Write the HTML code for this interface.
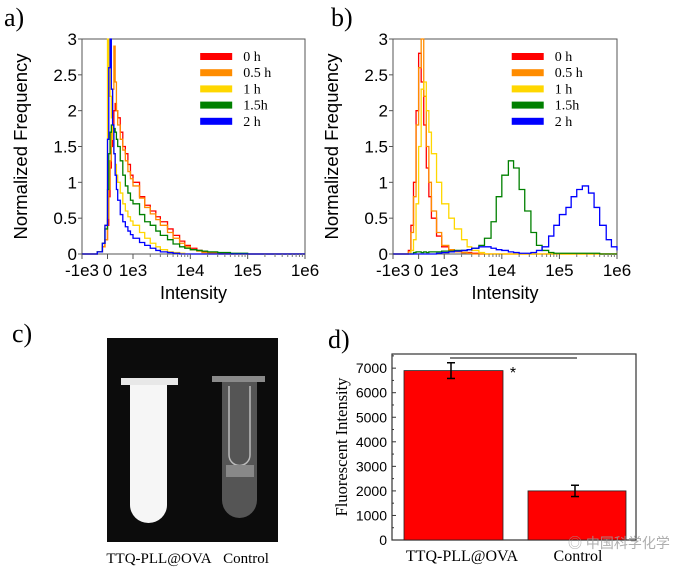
<!DOCTYPE html>
<html><head><meta charset="utf-8"><style>
html,body{margin:0;padding:0;background:#fff;width:693px;height:576px;overflow:hidden}
svg{display:block}
.ar{font-family:"Liberation Sans",Arial,sans-serif}
.sr{font-family:"Liberation Serif","Times New Roman",serif}
</style></head><body>
<svg id="fig" width="693" height="576" viewBox="0 0 693 576" xmlns="http://www.w3.org/2000/svg">
<text x="4" y="26" class="sr" font-size="26">a)</text>
<text x="331" y="26" class="sr" font-size="26">b)</text>
<text x="12" y="342" class="sr" font-size="26">c)</text>
<text x="328" y="348" class="sr" font-size="26">d)</text>
<g id="pa"></g>
<g id="pb"></g>
<g id="pc">
 <rect x="107" y="338" width="171" height="204" fill="#0c0c0c"/>
 <rect x="121" y="378" width="57" height="7" fill="#e8e8e8"/>
 <path d="M130 385 V505 A18.5 18 0 0 0 167 505 V385 Z" fill="#f6f6f6"/>
 <rect x="212" y="376" width="53" height="6" fill="#8a8a8a"/>
 <path d="M222 382 V500 A17.5 18 0 0 0 257 500 V382 Z" fill="#555"/>
 <path d="M229 386 V455 A10 10 0 0 0 250 455 V386" fill="none" stroke="#bbb" stroke-width="1.5"/>
 <rect x="226" y="465" width="28" height="12" fill="#888"/>
 <text x="159" y="563" text-anchor="middle" class="sr" font-size="15">TTQ-PLL@OVA</text>
 <text x="246" y="563" text-anchor="middle" class="sr" font-size="15">Control</text>
</g>
<g id="pd"></g>
<text x="568" y="548" class="ar" font-size="14" fill="#9a9a9a" opacity="0.8">◎ 中国科学化学</text>
</svg>
<script>
// ---- Panel a data ----
const binsA = [-600,-400,-200,-100,0,50,100,150,200,250,300,350,400,500,600,700,800,900,1000,1300,1600,2000,2500,3000,4000,5000,6500,8000,10000,13000,16000,20000,30000,50000,100000,1000000];
const a0h  = [0,0.03,0.1,0.2,0.4,0.8,1.2,1.5,1.8,2.0,2.1,2.0,1.9,1.7,1.5,1.4,1.25,1.1,1.0,0.8,0.68,0.6,0.52,0.45,0.35,0.26,0.18,0.12,0.08,0.05,0.03,0.02,0.01,0,0,0];
const a05h = [0,0.03,0.1,0.2,0.5,0.9,1.3,1.7,2.3,2.9,2.4,2.0,1.8,1.6,1.45,1.3,1.15,1.05,0.95,0.78,0.65,0.56,0.48,0.4,0.3,0.22,0.15,0.1,0.06,0.04,0.02,0.01,0,0,0,0];
const a1h  = [0,0.03,0.15,0.4,3.0,2.6,2.2,1.9,1.6,1.4,1.25,1.1,1.0,0.85,0.7,0.6,0.52,0.46,0.4,0.3,0.22,0.15,0.1,0.06,0.03,0.02,0.01,0,0,0,0,0,0,0,0,0];
const a15h = [0,0.03,0.15,0.35,0.9,1.4,1.7,1.8,1.8,1.75,1.7,1.6,1.5,1.3,1.1,0.95,0.85,0.75,0.7,0.55,0.45,0.4,0.32,0.26,0.2,0.14,0.1,0.08,0.06,0.05,0.04,0.03,0.02,0.01,0,0];
const a2h  = [0,0.03,0.15,0.4,1.6,2.6,3.0,2.3,1.8,1.4,1.1,0.9,0.75,0.55,0.45,0.38,0.32,0.27,0.22,0.16,0.12,0.08,0.05,0.03,0.02,0.01,0,0,0,0,0,0,0,0,0,0];
// ---- Panel b data ----
const binsB = [-600,-400,-300,-200,-100,0,100,200,300,400,500,700,900,1200,1500,2000,2500,3000,4000,5000,6500,8000,10000,13000,16000,20000,25000,32000,40000,50000,65000,80000,100000,130000,160000,200000,250000,320000,400000,500000,650000,800000,1000000];
const b0h  = [0,0.05,0.4,1.0,2.0,2.8,2.4,1.8,1.2,0.8,0.5,0.25,0.1,0.05,0.03,0.02,0.02,0.01,0,0,0,0,0,0,0,0,0,0,0,0,0,0,0,0,0,0,0,0,0,0,0,0,0];
const b05h = [0,0.03,0.3,0.8,1.8,2.6,3.0,2.2,1.5,1.0,0.6,0.3,0.12,0.06,0.03,0.02,0.01,0,0,0,0,0,0,0,0,0,0,0,0,0,0,0,0,0,0,0,0,0,0,0,0,0,0];
const b1h  = [0,0,0.05,0.2,0.7,1.5,2.3,2.4,2.0,1.7,1.4,1.0,0.7,0.5,0.35,0.2,0.1,0.05,0.02,0,0,0,0,0,0,0,0,0,0,0,0,0,0,0,0,0,0,0,0,0,0,0,0];
const b15h = [0,0,0,0.02,0.03,0.03,0.02,0.03,0.02,0.03,0.03,0.03,0.04,0.04,0.05,0.05,0.06,0.08,0.12,0.22,0.45,0.8,1.1,1.3,1.2,0.9,0.6,0.3,0.12,0.05,0.02,0.01,0.01,0.01,0.01,0.01,0.01,0.01,0.01,0,0,0,0];
const b2h  = [0,0,0,0,0,0,0,0,0,0,0,0.01,0.02,0.03,0.04,0.05,0.06,0.08,0.1,0.1,0.08,0.06,0.05,0.03,0.02,0.01,0.01,0.02,0.05,0.1,0.25,0.4,0.55,0.65,0.8,0.9,0.95,0.85,0.65,0.4,0.2,0.1,0.05];
// ---- Panel d data ----
const dCategories = ["TTQ-PLL@OVA","Control"];
const dValues = [6900, 2000];
const dErrors = [320, 230];
const dTicks = [0,1000,2000,3000,4000,5000,6000,7000];
const histTicks = [0,0.5,1,1.5,2,2.5,3];
const histTickLabels = ["0","0.5","1","1.5","2","2.5","3"];
const xTickVals = [-1000,0,1000,10000,100000,1000000];
const xTickLabels = ["-1e3","0","1e3","1e4","1e5","1e6"];
const legendLabels = ["0 h","0.5 h","1 h","1.5h","2 h"];
const colors = ["#ff0000","#ff8c00","#ffd700","#008000","#0000ff"];

const NS="http://www.w3.org/2000/svg";
function mk(tag, attrs, parent){const e=document.createElementNS(NS,tag);for(const k in attrs)e.setAttribute(k,attrs[k]);parent.appendChild(e);return e;}

function hist(g, L, R, T, B, bins, series){
  const W=R-L;
  const linW=W*51/223, dec=(W-linW)/3;
  const xS=v=> v<=1000 ? L + (v+1000)/2000*linW : L+linW+Math.log10(v/1000)*dec;
  const yS=v=> B-(v/3)*(B-T);
  const fr=mk('rect',{x:L,y:T,width:W,height:B-T,fill:'#fff',stroke:'#555','stroke-width':1},g);
  
  series.forEach((s,i)=>{
    let d='';
    for(let j=0;j<bins.length;j++){
      const x=xS(bins[j]), y=yS(Math.min(s[j],3));
      if(j===0) d+='M'+L+' '+B+' L'+x+' '+y; else d+=' H'+x+' V'+y;
    }
    d+=' H'+R;
    const p=mk('path',{d:d,fill:'none',stroke:colors[i],'stroke-width':1.3},g);
    
    
  });
  histTicks.forEach((t,i)=>{
    const y=yS(t);
    mk('line',{x1:L-4,x2:L,y1:y,y2:y,stroke:'#555'},g);
    const tx=mk('text',{x:L-5,y:y+6,'text-anchor':'end','font-size':17,class:'ar'},g);
    tx.textContent=histTickLabels[i];
    
  });
  xTickVals.forEach((v,i)=>{
    const x=xS(v);
    mk('line',{x1:x,x2:x,y1:B,y2:B+5,stroke:'#555'},g);
    const tx=mk('text',{x:x,y:B+22,'text-anchor':'middle','font-size':17,class:'ar'},g);
    tx.textContent=xTickLabels[i];
    
  });
  for(let dd=0;dd<3;dd++)for(let m=2;m<10;m++){const x=xS(1000*Math.pow(10,dd)*m);mk('line',{x1:x,x2:x,y1:B,y2:B+3,stroke:'#777'},g);}
  const xt=mk('text',{x:(L+R)/2,y:B+45,'text-anchor':'middle','font-size':18,class:'ar'},g);
  xt.textContent='Intensity';
  const yt=mk('text',{x:0,y:0,'text-anchor':'middle','font-size':18.5,class:'ar',transform:'translate('+(L-55)+','+((T+B)/2)+') rotate(-90)'},g);
  yt.textContent='Normalized Frequency';
  const lx=L+W*0.53;
  legendLabels.forEach((lab,i)=>{
    const y=56+i*16.2;
    const r=mk('rect',{x:lx,y:y-3,width:32,height:7,fill:colors[i]},g);
    
    const tx=mk('text',{x:lx+43,y:y+5,'font-size':14,class:'sr'},g);
    tx.textContent=lab;
  });
}
hist(document.getElementById('pa'),82,305,39,254,binsA,[a0h,a05h,a1h,a15h,a2h]);
hist(document.getElementById('pb'),393,617,39,254,binsB,[b0h,b05h,b1h,b15h,b2h]);

(function(){
  const g=document.getElementById('pd');
  const L=392,R=636,T=354,B=540;
  const yS=v=>B-v/1000*24.55;
  const fr=mk('rect',{x:L,y:T,width:R-L,height:B-T,fill:'#fff',stroke:'#333','stroke-width':1.2},g);
  
  const bx=[[404,503],[528,626]];
  dValues.forEach((v,i)=>{
    const b=mk('rect',{x:bx[i][0],y:yS(v),width:bx[i][1]-bx[i][0],height:B-yS(v),fill:'#ff0000',stroke:'#222','stroke-width':0.8},g);
    
    const cx=i===0?451:575;
    const e1=yS(v+dErrors[i]),e2=yS(v-dErrors[i]);
    mk('line',{x1:cx,x2:cx,y1:e1,y2:e2,stroke:'#000','stroke-width':1.5},g);
    mk('line',{x1:cx-4,x2:cx+4,y1:e1,y2:e1,stroke:'#000','stroke-width':1.5},g);
    mk('line',{x1:cx-4,x2:cx+4,y1:e2,y2:e2,stroke:'#000','stroke-width':1.5},g);
    const tx=mk('text',{x:i===0?462:578,y:561,'text-anchor':'middle','font-size':16,class:'sr'},g);
    tx.textContent=dCategories[i];
  });
  dTicks.forEach(t=>{
    const y=yS(t);
    mk('line',{x1:L,x2:L+4,y1:y,y2:y,stroke:'#333'},g);
    mk('line',{x1:L,x2:L+2,y1:yS(t+500),y2:yS(t+500),stroke:'#333'},g);
    const tx=mk('text',{x:L-5,y:y+5,'text-anchor':'end','font-size':14,class:'ar'},g);
    tx.textContent=String(t);
  });
  mk('line',{x1:450,x2:577,y1:358,y2:358,stroke:'#000','stroke-width':1},g);
  const st=mk('text',{x:513,y:378,'text-anchor':'middle','font-size':16,class:'ar'},g);
  st.textContent='*';
  const yt=mk('text',{x:0,y:0,'text-anchor':'middle','font-size':16.5,class:'sr',transform:'translate(347,447) rotate(-90)'},g);
  yt.textContent='Fluorescent Intensity';
})();
</script>
</body></html>
